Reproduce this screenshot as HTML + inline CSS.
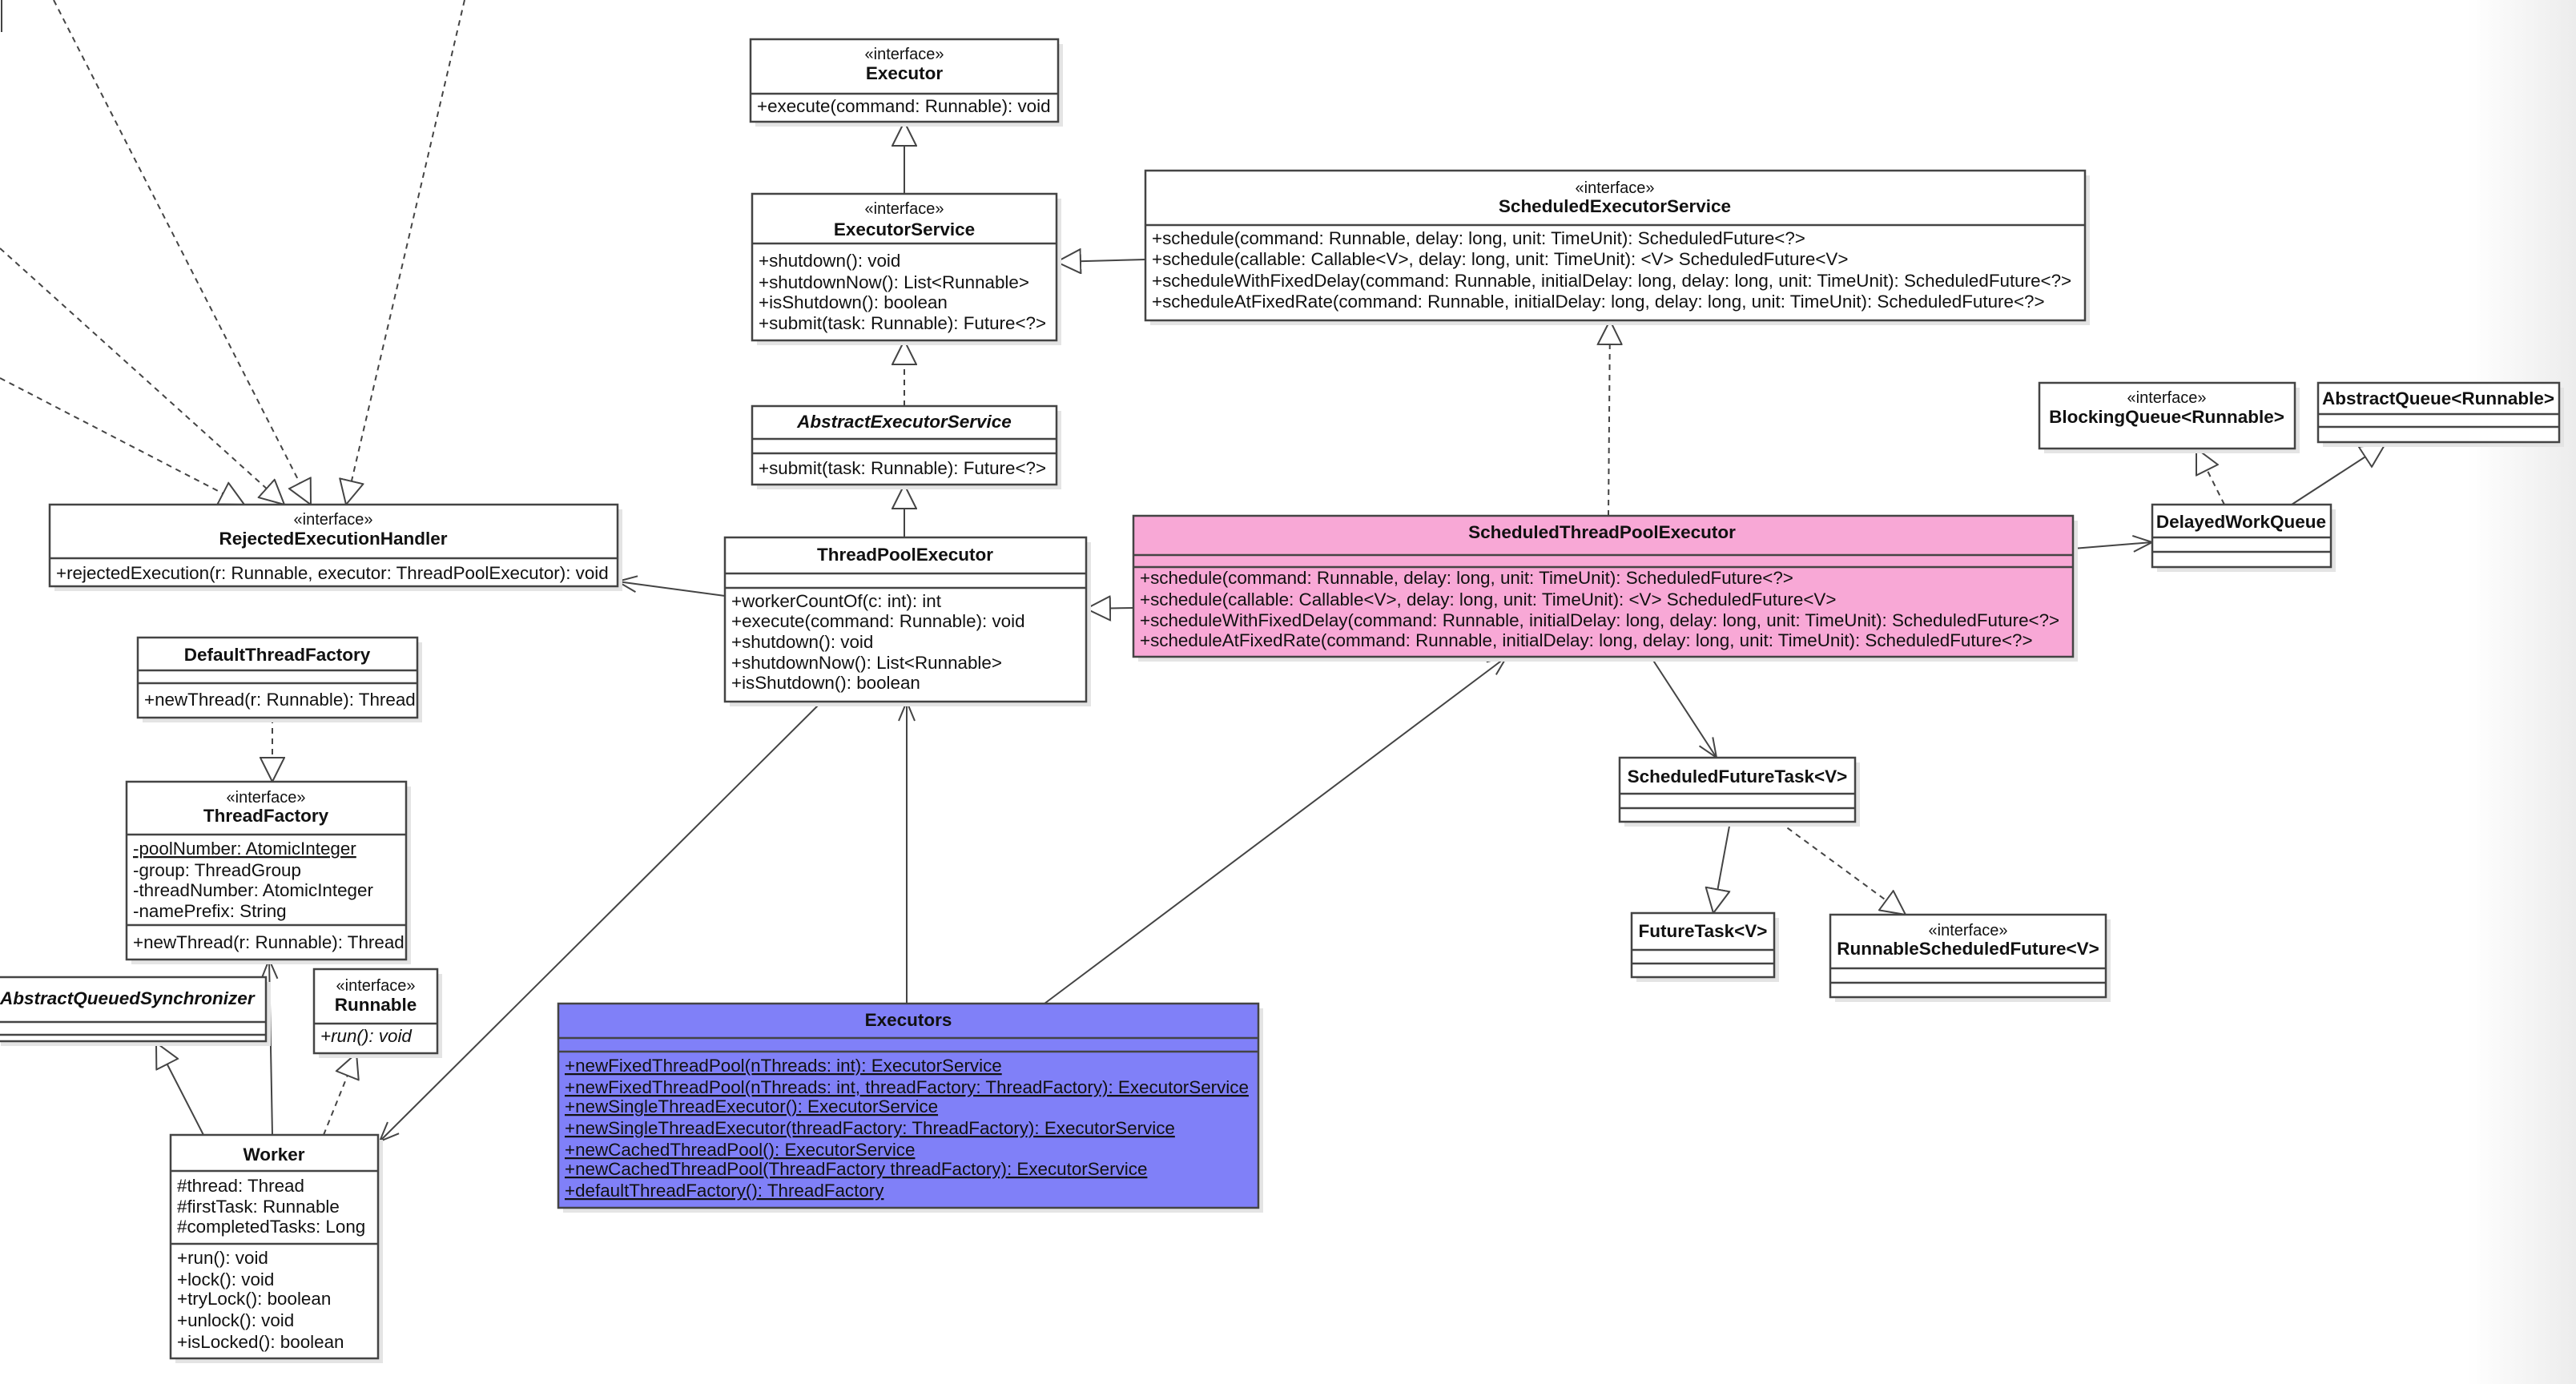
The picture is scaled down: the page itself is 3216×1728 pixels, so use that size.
<!DOCTYPE html>
<html><head><meta charset="utf-8"><style>
html,body{margin:0;padding:0;background:#fff;}
svg{display:block;}
text{font-family:"Liberation Sans",sans-serif;font-size:22.4px;fill:#111;}
.b{font-weight:bold;font-size:22.5px;}
.s{font-size:20px;}
.c{text-anchor:middle;}
.i{font-style:italic;}
.u{text-decoration:underline;}
.box{stroke:#444;stroke-width:2.5;}
.sh{fill:#e4e4e4;}
.ln{stroke:#444;stroke-width:2;fill:none;}
.d{stroke-dasharray:7,6;}
</style></head><body>
<svg width="3216" height="1728" viewBox="0 0 3216 1728" xmlns="http://www.w3.org/2000/svg">
<defs>
<linearGradient id="g" x1="0" x2="1"><stop offset="0" stop-color="#fff"/><stop offset="1" stop-color="#ececec"/></linearGradient>
<marker id="tri" viewBox="0 0 32 32" refX="31" refY="16" markerWidth="32" markerHeight="32" markerUnits="userSpaceOnUse" orient="auto">
<path d="M1,1 L31,16 L1,31 Z" fill="#fff" stroke="#444" stroke-width="2"/></marker>
<marker id="op" viewBox="0 0 32 32" refX="30" refY="16" markerWidth="32" markerHeight="32" markerUnits="userSpaceOnUse" orient="auto">
<path d="M6,6 L30,16 L6,26" fill="none" stroke="#444" stroke-width="2"/></marker>
</defs>
<rect x="3080" y="0" width="136" height="1728" fill="url(#g)"/>

<!-- connectors -->
<line class="ln" x1="1129" y1="242" x2="1129" y2="152" marker-end="url(#tri)"/>
<line class="ln d" x1="1129" y1="507" x2="1129" y2="425" marker-end="url(#tri)"/>
<line class="ln" x1="1129" y1="671" x2="1129" y2="605" marker-end="url(#tri)"/>
<line class="ln" x1="1430" y1="324" x2="1319" y2="327" marker-end="url(#tri)"/>
<line class="ln d" x1="2008" y1="644" x2="2010" y2="400" marker-end="url(#tri)"/>
<line class="ln" x1="1415" y1="759" x2="1356" y2="760" marker-end="url(#tri)"/>
<line class="ln" x1="905" y1="744" x2="771" y2="726" marker-end="url(#op)"/>
<line class="ln" x1="2588" y1="685" x2="2687" y2="677" marker-end="url(#op)"/>
<line class="ln d" x1="2777" y1="630" x2="2742" y2="560" marker-end="url(#tri)"/>
<line class="ln" x1="2861" y1="630" x2="2978" y2="554" marker-end="url(#tri)"/>
<line class="ln" x1="2061" y1="820" x2="2143" y2="946" marker-end="url(#op)"/>
<line class="ln" x1="2160" y1="1026" x2="2139" y2="1140" marker-end="url(#tri)"/>
<line class="ln d" x1="2221" y1="1026" x2="2379" y2="1142" marker-end="url(#tri)"/>
<line class="ln" x1="1304" y1="1253" x2="1881" y2="820" marker-end="url(#op)"/>
<line class="ln" x1="1132" y1="1253" x2="1132" y2="876" marker-end="url(#op)"/>
<line class="ln" x1="1026" y1="876" x2="474" y2="1425" marker-end="url(#op)"/>
<line class="ln d" x1="340" y1="896" x2="340" y2="976" marker-end="url(#tri)"/>
<line class="ln" x1="340" y1="1417" x2="336" y2="1198" marker-end="url(#op)"/>
<line class="ln" x1="254" y1="1417" x2="195" y2="1302" marker-end="url(#tri)"/>
<line class="ln d" x1="404" y1="1417" x2="445" y2="1315" marker-end="url(#tri)"/>
<line class="ln d" x1="0" y1="472" x2="305" y2="630" marker-end="url(#tri)"/>
<line class="ln d" x1="0" y1="310" x2="355" y2="630" marker-end="url(#tri)"/>
<line class="ln d" x1="67" y1="0" x2="388" y2="630" marker-end="url(#tri)"/>
<line class="ln d" x1="580" y1="0" x2="432" y2="630" marker-end="url(#tri)"/>
<line class="ln" x1="2" y1="0" x2="2" y2="40"/>

<!-- Executor -->
<rect class="sh" x="943" y="55" width="384" height="103"/>
<rect class="box" x="937" y="49" width="384" height="103" fill="#fff"/>
<line class="box" x1="937" y1="117" x2="1321" y2="117"/>
<text class="s c" x="1129" y="74">«interface»</text>
<text class="b c" x="1129" y="99">Executor</text>
<text x="945" y="140">+execute(command: Runnable): void</text>

<!-- ExecutorService -->
<rect class="sh" x="945" y="248" width="380" height="183"/>
<rect class="box" x="939" y="242" width="380" height="183" fill="#fff"/>
<line class="box" x1="939" y1="304" x2="1319" y2="304"/>
<text class="s c" x="1129" y="267">«interface»</text>
<text class="b c" x="1129" y="294">ExecutorService</text>
<text x="947" y="333">+shutdown(): void</text>
<text x="947" y="360">+shutdownNow(): List&lt;Runnable&gt;</text>
<text x="947" y="385">+isShutdown(): boolean</text>
<text x="947" y="411">+submit(task: Runnable): Future&lt;?&gt;</text>

<!-- AbstractExecutorService -->
<rect class="sh" x="945" y="513" width="380" height="98"/>
<rect class="box" x="939" y="507" width="380" height="98" fill="#fff"/>
<line class="box" x1="939" y1="548" x2="1319" y2="548"/>
<line class="box" x1="939" y1="566" x2="1319" y2="566"/>
<text class="b c i" x="1129" y="534">AbstractExecutorService</text>
<text x="947" y="592">+submit(task: Runnable): Future&lt;?&gt;</text>

<!-- ThreadPoolExecutor -->
<rect class="sh" x="911" y="677" width="451" height="205"/>
<rect class="box" x="905" y="671" width="451" height="205" fill="#fff"/>
<line class="box" x1="905" y1="716" x2="1356" y2="716"/>
<line class="box" x1="905" y1="734" x2="1356" y2="734"/>
<text class="b c" x="1130" y="700">ThreadPoolExecutor</text>
<text x="913" y="758">+workerCountOf(c: int): int</text>
<text x="913" y="783">+execute(command: Runnable): void</text>
<text x="913" y="809">+shutdown(): void</text>
<text x="913" y="835">+shutdownNow(): List&lt;Runnable&gt;</text>
<text x="913" y="860">+isShutdown(): boolean</text>

<!-- RejectedExecutionHandler -->
<rect class="sh" x="68" y="636" width="709" height="102"/>
<rect class="box" x="62" y="630" width="709" height="102" fill="#fff"/>
<line class="box" x1="62" y1="697" x2="771" y2="697"/>
<text class="s c" x="416" y="655">«interface»</text>
<text class="b c" x="416" y="680">RejectedExecutionHandler</text>
<text x="70" y="723">+rejectedExecution(r: Runnable, executor: ThreadPoolExecutor): void</text>

<!-- ScheduledExecutorService -->
<rect class="sh" x="1436" y="219" width="1173" height="187"/>
<rect class="box" x="1430" y="213" width="1173" height="187" fill="#fff"/>
<line class="box" x1="1430" y1="281" x2="2603" y2="281"/>
<text class="s c" x="2016" y="241">«interface»</text>
<text class="b c" x="2016" y="265">ScheduledExecutorService</text>
<text x="1438" y="305">+schedule(command: Runnable, delay: long, unit: TimeUnit): ScheduledFuture&lt;?&gt;</text>
<text x="1438" y="331">+schedule(callable: Callable&lt;V&gt;, delay: long, unit: TimeUnit): &lt;V&gt; ScheduledFuture&lt;V&gt;</text>
<text x="1438" y="358">+scheduleWithFixedDelay(command: Runnable, initialDelay: long, delay: long, unit: TimeUnit): ScheduledFuture&lt;?&gt;</text>
<text x="1438" y="384">+scheduleAtFixedRate(command: Runnable, initialDelay: long, delay: long, unit: TimeUnit): ScheduledFuture&lt;?&gt;</text>

<!-- ScheduledThreadPoolExecutor -->
<rect class="sh" x="1421" y="650" width="1173" height="176"/>
<rect class="box" x="1415" y="644" width="1173" height="176" fill="#f8a8d6"/>
<line class="box" x1="1415" y1="693" x2="2588" y2="693"/>
<line class="box" x1="1415" y1="708" x2="2588" y2="708"/>
<text class="b c" x="2000" y="672">ScheduledThreadPoolExecutor</text>
<text x="1423" y="729">+schedule(command: Runnable, delay: long, unit: TimeUnit): ScheduledFuture&lt;?&gt;</text>
<text x="1423" y="756">+schedule(callable: Callable&lt;V&gt;, delay: long, unit: TimeUnit): &lt;V&gt; ScheduledFuture&lt;V&gt;</text>
<text x="1423" y="782">+scheduleWithFixedDelay(command: Runnable, initialDelay: long, delay: long, unit: TimeUnit): ScheduledFuture&lt;?&gt;</text>
<text x="1423" y="807">+scheduleAtFixedRate(command: Runnable, initialDelay: long, delay: long, unit: TimeUnit): ScheduledFuture&lt;?&gt;</text>

<!-- BlockingQueue -->
<rect class="sh" x="2552" y="484" width="319" height="82"/>
<rect class="box" x="2546" y="478" width="319" height="82" fill="#fff"/>
<text class="s c" x="2705" y="503">«interface»</text>
<text class="b c" x="2705" y="528">BlockingQueue&lt;Runnable&gt;</text>

<!-- AbstractQueue -->
<rect class="sh" x="2900" y="484" width="301" height="74"/>
<rect class="box" x="2894" y="478" width="301" height="74" fill="#fff"/>
<line class="box" x1="2894" y1="517" x2="3195" y2="517"/>
<line class="box" x1="2894" y1="533" x2="3195" y2="533"/>
<text class="b c" x="3044" y="505">AbstractQueue&lt;Runnable&gt;</text>

<!-- DelayedWorkQueue -->
<rect class="sh" x="2693" y="636" width="223" height="78"/>
<rect class="box" x="2687" y="630" width="223" height="78" fill="#fff"/>
<line class="box" x1="2687" y1="671" x2="2910" y2="671"/>
<line class="box" x1="2687" y1="689" x2="2910" y2="689"/>
<text class="b c" x="2798" y="659">DelayedWorkQueue</text>

<!-- ScheduledFutureTask -->
<rect class="sh" x="2028" y="952" width="294" height="80"/>
<rect class="box" x="2022" y="946" width="294" height="80" fill="#fff"/>
<line class="box" x1="2022" y1="991" x2="2316" y2="991"/>
<line class="box" x1="2022" y1="1009" x2="2316" y2="1009"/>
<text class="b c" x="2169" y="977">ScheduledFutureTask&lt;V&gt;</text>

<!-- FutureTask -->
<rect class="sh" x="2043" y="1146" width="178" height="80"/>
<rect class="box" x="2037" y="1140" width="178" height="80" fill="#fff"/>
<line class="box" x1="2037" y1="1186" x2="2215" y2="1186"/>
<line class="box" x1="2037" y1="1203" x2="2215" y2="1203"/>
<text class="b c" x="2126" y="1170">FutureTask&lt;V&gt;</text>

<!-- RunnableScheduledFuture -->
<rect class="sh" x="2291" y="1148" width="344" height="103"/>
<rect class="box" x="2285" y="1142" width="344" height="103" fill="#fff"/>
<line class="box" x1="2285" y1="1209" x2="2629" y2="1209"/>
<line class="box" x1="2285" y1="1227" x2="2629" y2="1227"/>
<text class="s c" x="2457" y="1168">«interface»</text>
<text class="b c" x="2457" y="1192">RunnableScheduledFuture&lt;V&gt;</text>

<!-- DefaultThreadFactory -->
<rect class="sh" x="178" y="802" width="349" height="100"/>
<rect class="box" x="172" y="796" width="349" height="100" fill="#fff"/>
<line class="box" x1="172" y1="837" x2="521" y2="837"/>
<line class="box" x1="172" y1="853" x2="521" y2="853"/>
<text class="b c" x="346" y="825">DefaultThreadFactory</text>
<text x="180" y="881">+newThread(r: Runnable): Thread</text>

<!-- ThreadFactory -->
<rect class="sh" x="164" y="982" width="349" height="222"/>
<rect class="box" x="158" y="976" width="349" height="222" fill="#fff"/>
<line class="box" x1="158" y1="1042" x2="507" y2="1042"/>
<line class="box" x1="158" y1="1155" x2="507" y2="1155"/>
<text class="s c" x="332" y="1002">«interface»</text>
<text class="b c" x="332" y="1026">ThreadFactory</text>
<text class="u" x="166" y="1067">-poolNumber: AtomicInteger</text>
<text x="166" y="1094">-group: ThreadGroup</text>
<text x="166" y="1119">-threadNumber: AtomicInteger</text>
<text x="166" y="1145">-namePrefix: String</text>
<text x="166" y="1184">+newThread(r: Runnable): Thread</text>

<!-- AQS -->
<rect class="sh" x="1" y="1226" width="337" height="80"/>
<rect class="box" x="-5" y="1220" width="337" height="80" fill="#fff"/>
<line class="box" x1="-5" y1="1276" x2="332" y2="1276"/>
<line class="box" x1="-5" y1="1292" x2="332" y2="1292"/>
<text class="b i" x="0" y="1254">AbstractQueuedSynchronizer</text>

<!-- Runnable -->
<rect class="sh" x="398" y="1216" width="154" height="105"/>
<rect class="box" x="392" y="1210" width="154" height="105" fill="#fff"/>
<line class="box" x1="392" y1="1278" x2="546" y2="1278"/>
<text class="s c" x="469" y="1237">«interface»</text>
<text class="b c" x="469" y="1262">Runnable</text>
<text class="i" x="400" y="1301">+run(): void</text>

<!-- Worker -->
<rect class="sh" x="219" y="1423" width="259" height="279"/>
<rect class="box" x="213" y="1417" width="259" height="279" fill="#fff"/>
<line class="box" x1="213" y1="1462" x2="472" y2="1462"/>
<line class="box" x1="213" y1="1553" x2="472" y2="1553"/>
<text class="b c" x="342" y="1449">Worker</text>
<text x="221" y="1488">#thread: Thread</text>
<text x="221" y="1514">#firstTask: Runnable</text>
<text x="221" y="1539">#completedTasks: Long</text>
<text x="221" y="1578">+run(): void</text>
<text x="221" y="1605">+lock(): void</text>
<text x="221" y="1629">+tryLock(): boolean</text>
<text x="221" y="1656">+unlock(): void</text>
<text x="221" y="1683">+isLocked(): boolean</text>

<!-- Executors -->
<rect class="sh" x="703" y="1259" width="874" height="255"/>
<rect class="box" x="697" y="1253" width="874" height="255" fill="#8080f8"/>
<line class="box" x1="697" y1="1296" x2="1571" y2="1296"/>
<line class="box" x1="697" y1="1313" x2="1571" y2="1313"/>
<text class="b c" x="1134" y="1281">Executors</text>
<text class="u" x="705" y="1338">+newFixedThreadPool(nThreads: int): ExecutorService</text>
<text class="u" x="705" y="1365">+newFixedThreadPool(nThreads: int, threadFactory: ThreadFactory): ExecutorService</text>
<text class="u" x="705" y="1389">+newSingleThreadExecutor(): ExecutorService</text>
<text class="u" x="705" y="1416">+newSingleThreadExecutor(threadFactory: ThreadFactory): ExecutorService</text>
<text class="u" x="705" y="1443">+newCachedThreadPool(): ExecutorService</text>
<text class="u" x="705" y="1467">+newCachedThreadPool(ThreadFactory threadFactory): ExecutorService</text>
<text class="u" x="705" y="1494">+defaultThreadFactory(): ThreadFactory</text>
</svg>
</body></html>
